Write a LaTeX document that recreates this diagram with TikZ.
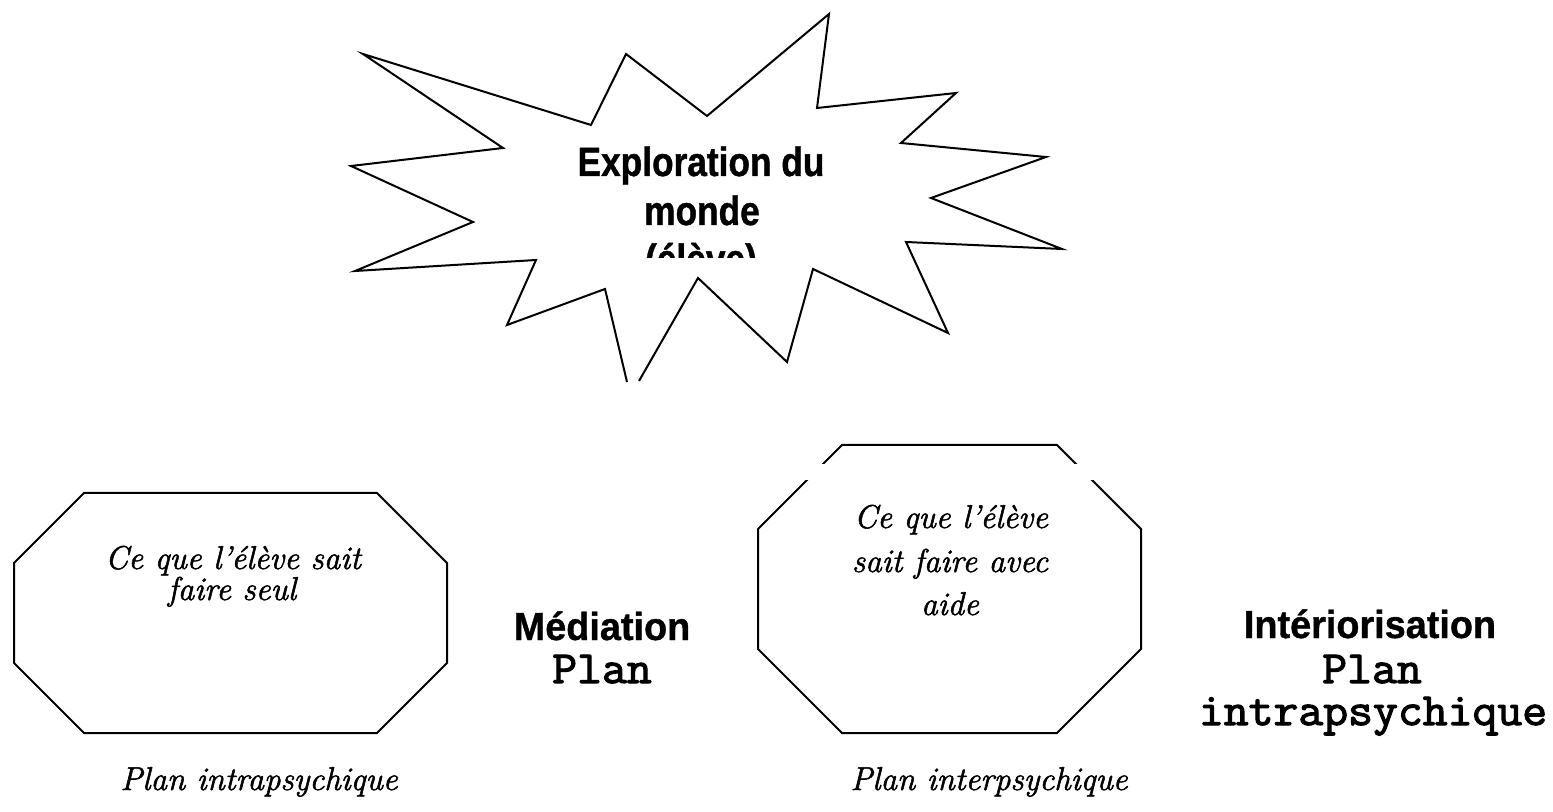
\documentclass[tikz,border=0pt]{standalone}
\usepackage{fontspec}
\newfontfamily\burstfont[FakeStretch=0.86,FakeBold=1]{Liberation Sans}
\newfontfamily\labfont[FakeStretch=0.97,FakeBold=1]{Liberation Sans}
\newfontfamily\planfont[FakeBold=2.5,FakeStretch=1.05]{Latin Modern Mono}
\newfontfamily\handfont[FakeBold=1.6]{Latin Modern Roman}
\tikzset{
  shape line/.style={draw=black, line width=1pt, line join=miter},
  burst text/.style={font={\burstfont\bfseries\fontsize{20.5}{24}\selectfont}, anchor=base, inner sep=0pt},
  phase text/.style={font={\labfont\bfseries\fontsize{19.5}{22}\selectfont}, anchor=base, inner sep=0pt},
  plan text/.style={font={\planfont\fontsize{23}{26}\selectfont}, anchor=base, inner sep=0pt},
  hand text/.style={font={\handfont\itshape\fontsize{16.5}{20}\selectfont}, anchor=base, inner sep=0pt},
}
\begin{document}
\begin{tikzpicture}[x=0.5pt,y=-0.5pt]
\useasboundingbox (0,0) rectangle (1553,812);
% starburst (clipped at the bottom)
\draw[shape line] (627,382) -- (605,289) -- (507,325) -- (536,260) -- (355,271) -- (473,222)
  -- (351,166) -- (503,148) -- (363,54) -- (591,125) -- (626,54) -- (707,116) -- (829,14)
  -- (817,108) -- (956,93) -- (901,143) -- (1046,157) -- (931,198) -- (1062,249) -- (906,242)
  -- (948,333) -- (813,269) -- (787,362) -- (698,278) -- (639,381);
\node[burst text] (expl) at (701,176) {Exploration du};
\node[burst text] (monde) at (702,225) {monde};
\begin{scope}
  \clip (500,230) rectangle (900,258);
  \node[burst text] (eleve) at (701,273) {(élève)};
\end{scope}
% left octagon
\draw[shape line] (84,493) -- (377,493) -- (447,563) -- (447,663) -- (377,733) -- (84,733)
  -- (14,663) -- (14,563) -- cycle;
\node[hand text] (seul1) at (233,569) {Ce que l’élève sait};
\node[hand text] (seul2) at (232,600) {faire seul};
% right octagon
\draw[shape line] (842,445) -- (1057,445) -- (1141,529) -- (1141,649) -- (1057,733) -- (842,733)
  -- (758,649) -- (758,529) -- cycle;
\fill[white] (780,464) rectangle (1120,480);
\node[hand text] (aide1) at (951,528) {Ce que l’élève};
\node[hand text] (aide2) at (950,572) {sait faire avec};
\node[hand text] (aide3) at (950,615) {aide};
% middle labels
\node[phase text] (med) at (602,640) {Médiation};
\node[plan text] (medplan) at (602,683) {Plan};
\node[phase text] (inter) at (1370,638) {Intériorisation};
\node[plan text] (intplan) at (1372,683) {Plan};
\node[plan text] (intintra) at (1373,725) {intrapsychique};
% bottom captions
\node[hand text] (capl) at (259,790) {Plan intrapsychique};
\node[hand text] (capr) at (989,790) {Plan interpsychique};
\end{tikzpicture}
\end{document}
